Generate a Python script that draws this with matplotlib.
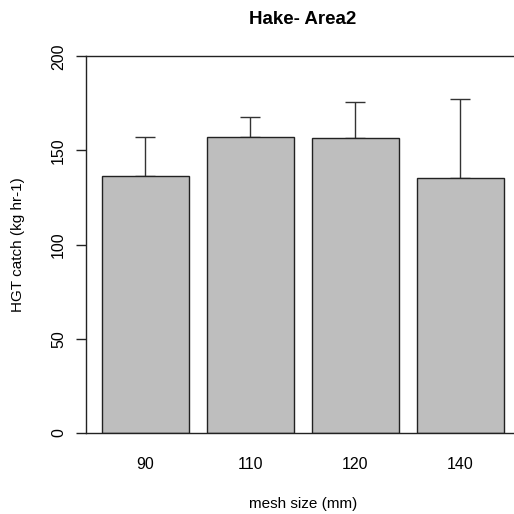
import matplotlib.pyplot as plt
import numpy as np

# HGT catch by mesh size, hake in Area 2
mesh = ['90', '110', '120', '140']
catch = [136.6, 157.3, 156.5, 135.6]
upper = [157.3, 167.9, 175.9, 177.5]   # top of the error bars

plt.rcParams['font.family'] = ['Liberation Sans', 'DejaVu Sans']

fig = plt.figure(figsize=(5.14, 5.14), dpi=100)
# plot region like base R barplot (right edge runs off the canvas)
ax = fig.add_axes([85.6 / 514, 81 / 514, 434.7 / 514, 376.7 / 514])

# barplot positions: width 1, space 0.2
x = 0.7 + 1.2 * np.arange(len(mesh))
ax.bar(x, catch, width=1.0, color='#bebebe', edgecolor='#222222', linewidth=1.0, zorder=2)
err = np.array(upper) - np.array(catch)
ax.errorbar(x, catch, yerr=[np.zeros(len(err)), err], fmt='none', ecolor='#333333',
            elinewidth=1.0, capsize=7, capthick=1.0, zorder=1)

ax.set_xlim(0.016, 4.984)
ax.set_ylim(0, 200)
ax.set_xticks(x)
ax.set_xticklabels(mesh, fontsize=11.5)
ax.tick_params(axis='x', length=0, pad=17)
ax.set_yticks([0, 50, 100, 150, 200])
ax.set_yticklabels(['0', '50', '100', '150', '200'], rotation=90, va='center', fontsize=11.5)
ax.tick_params(axis='y', length=7, width=1, pad=7, color='#222222')
for s in ax.spines.values():
    s.set_color('#222222')
    s.set_linewidth(1.0)

ax.set_xlabel('mesh size (mm)', fontsize=11, labelpad=18)
ax.set_ylabel('HGT catch (kg hr-1)', fontsize=11, labelpad=19)
ax.set_title('Hake- Area2', fontsize=13.5, fontweight='bold', pad=23)

fig.savefig('out.png', dpi=100)
